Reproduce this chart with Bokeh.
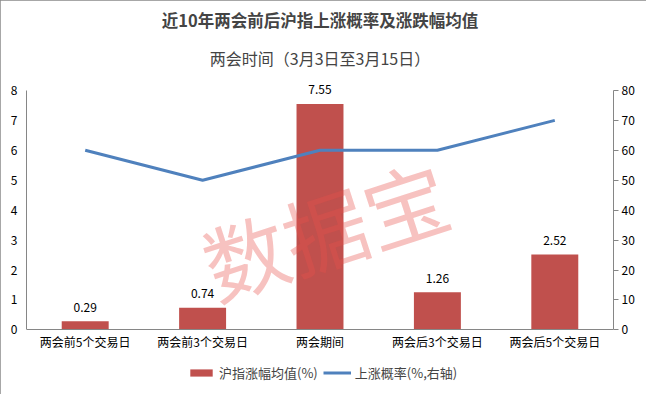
from bokeh.plotting import figure
from bokeh.models import (Range1d, LinearAxis, FactorRange, ColumnDataSource, LabelSet,
                          Legend, LegendItem, Title, Label, FixedTicker)
from bokeh.core.properties import value
from bokeh.embed import file_html
from bokeh.resources import INLINE

categories = ["两会前5个交易日", "两会前3个交易日", "两会期间", "两会后3个交易日", "两会后5个交易日"]
avg_change = [0.29, 0.74, 7.55, 1.26, 2.52]
up_prob = [60, 50, 60, 60, 70]
left_ticks = [0, 1, 2, 3, 4, 5, 6, 7, 8]
right_ticks = [0, 10, 20, 30, 40, 50, 60, 70, 80]
title_text = "近10年两会前后沪指上涨概率及涨跌幅均值"
subtitle_text = "两会时间（3月3日至3月15日）"
legend_bar = "沪指涨幅均值(%)"
legend_line = "上涨概率(%,右轴)"
watermark_text = "数据宝"

FONT = "Noto Sans CJK SC"
BAR = "#C0504D"
LINE = "#4F81BD"
AXIS = "#868686"

# left axis 0..8, right axis 0..80; the frame extends a little above the top tick
# (room for the data labels) and below zero (room for the legend)
LEFT_MAX, RIGHT_MAX = 8, 80
ABOVE = 0.465   # left-axis units above the top tick
BELOW = 2.025   # left-axis units below the zero line
RATIO = RIGHT_MAX / LEFT_MAX

src = ColumnDataSource(dict(cat=categories, val=avg_change, prob=up_prob,
                            lbl=[f"{v:.2f}" for v in avg_change]))

p = figure(width=646, height=394,
           x_range=FactorRange(factors=categories, range_padding=0),
           y_range=Range1d(-BELOW, LEFT_MAX + ABOVE),
           output_backend="svg", toolbar_location=None,
           min_border_left=26, min_border_right=33, min_border_top=0, min_border_bottom=4)
p.extra_y_ranges = {"right": Range1d(-BELOW * RATIO, (LEFT_MAX + ABOVE) * RATIO)}
p.outline_line_color = None
p.background_fill_color = "white"
p.border_fill_color = "white"
p.xgrid.grid_line_color = None
p.ygrid.grid_line_color = None
p.styles = {"outline": "1px solid #8a8a8a", "outline-offset": "-1px"}

bars = p.vbar(x="cat", top="val", width=0.4, source=src, color=BAR, line_color=None)
line = p.line(x="cat", y="prob", source=src, y_range_name="right", color=LINE, line_width=3)

labels = LabelSet(x="cat", y="val", text="lbl", source=src, text_align="center",
                  text_baseline="middle", y_offset=14, text_font=value(FONT),
                  text_font_size=value("12px"), text_color="#000000")
p.add_layout(labels)

wm = Label(x=2.54, y=3.4, text=watermark_text, angle=18, angle_units="deg",
           text_align="center", text_baseline="middle", text_font=FONT,
           text_font_size="84px", text_color="#e8504a", text_alpha=0.35)
p.add_layout(wm)

# axes
ya = p.yaxis[0]
ya.ticker = FixedTicker(ticks=left_ticks)
ya.bounds = (0, LEFT_MAX)
ya.major_tick_out = 0
ya.major_tick_in = 0
ya.minor_tick_line_color = None
ya.axis_line_color = AXIS
ya.major_label_text_font = FONT
ya.major_label_text_font_size = "12px"
ya.major_label_text_color = "#000000"
ya.major_label_standoff = 9

xa = p.xaxis[0]
xa.fixed_location = 0
xa.major_tick_out = 0
xa.major_tick_in = 0
xa.major_tick_line_color = None
xa.minor_tick_line_color = None
xa.axis_line_color = AXIS
xa.major_label_text_font = FONT
xa.major_label_text_font_size = "12px"
xa.major_label_text_color = "#000000"
xa.major_label_standoff = 3

ra = LinearAxis(y_range_name="right", ticker=FixedTicker(ticks=right_ticks))
ra.bounds = (0, RIGHT_MAX)
ra.major_tick_out = 5
ra.major_tick_in = 0
ra.major_tick_line_color = AXIS
ra.minor_tick_line_color = None
ra.axis_line_color = AXIS
ra.major_label_text_font = FONT
ra.major_label_text_font_size = "12px"
ra.major_label_text_color = "#000000"
ra.major_label_standoff = 3
p.add_layout(ra, "right")

legend = Legend(items=[LegendItem(label=legend_bar, renderers=[bars]),
                       LegendItem(label=legend_line, renderers=[line])],
                orientation="horizontal", location=(161, 8),
                label_text_font=FONT, label_text_font_size="13px",
                glyph_width=28, glyph_height=9, spacing=5, label_standoff=4,
                label_height=14,
                border_line_color=None, background_fill_alpha=0, padding=0, margin=0)
p.add_layout(legend)

p.add_layout(Title(text=subtitle_text, align="center", text_font=FONT,
                   text_font_size="16px", text_font_style="normal", standoff=14), "above")
p.add_layout(Title(text=title_text, align="center", text_font=FONT,
                   text_font_size="16.5px", text_font_style="bold", standoff=10), "above")

open("out.html", "w").write(file_html(p, INLINE))
